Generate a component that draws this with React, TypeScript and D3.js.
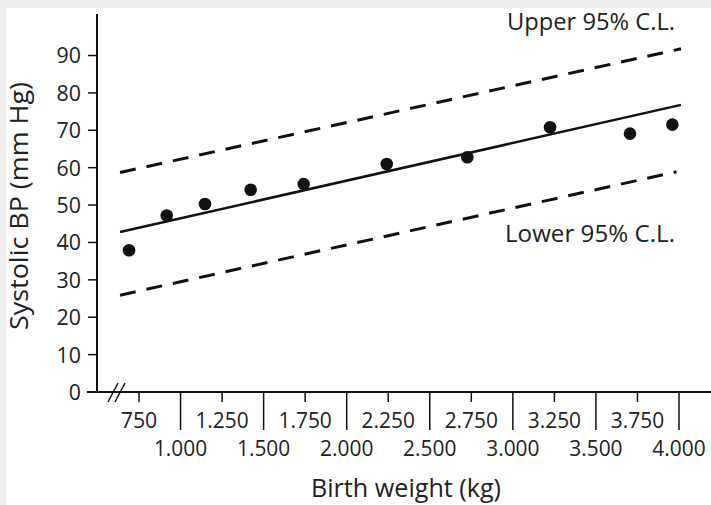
import React from 'react';
import * as d3 from 'd3';

// birth weight (g) and systolic BP (mm Hg)
const weights = [690, 917, 1147, 1422, 1741, 2241, 2726, 3224, 3705, 3960];
const systolic = [37.9, 47.2, 50.3, 54.1, 55.6, 61.0, 62.8, 70.8, 69.1, 71.5];

// fitted line and 95% confidence limits, as [weight, bp] end points
const fitLine = [[636, 42.8], [4012, 76.8]];
const upperCL = [[636, 58.7], [4012, 91.8]];
const lowerCL = [[636, 25.9], [3985, 58.9]];

const yTicks = [0, 10, 20, 30, 40, 50, 60, 70, 80, 90];
const xTicks = d3.range(750, 4001, 250);

const W = 711;
const H = 505;
const FONT = '"Open Sans", sans-serif';

const locale = d3.formatLocale({ decimal: ',', thousands: '.', grouping: [3], currency: ['', ''] });
const fmt = locale.format(',');

// the original face is narrower than Open Sans, so squeeze labels a bit
const tickWidth = (s: string) => s.replace('.', '').length * 12.2 + (s.includes('.') ? 4.5 : 0);

export default function App() {
  const x = d3.scaleLinear().domain([750, 4000]).range([139, 679]);
  const y = d3.scaleLinear().domain([0, 90]).range([392, 55.5]);
  const line = d3.line<number[]>().x(d => x(d[0])).y(d => y(d[1]));

  const axisX = 97;
  const axisY = y(0);

  return (
    <div>
      <style>{'body{margin:0}'}</style>
      <svg width={W} height={H} style={{ display: 'block', background: '#efefef' }} fontFamily={FONT}>
        <rect x={6} y={8} width={W - 6} height={H - 8} fill="#fff" />

        {/* y axis */}
        <line x1={axisX} x2={axisX} y1={14} y2={axisY} stroke="#111" strokeWidth={2} />
        {yTicks.map(t => (
          <g key={t}>
            <line x1={axisX - 9} x2={axisX} y1={y(t)} y2={y(t)} stroke="#111" strokeWidth={1.5} />
            <text x={axisX - 16} y={y(t)} dy="0.36em" textAnchor="end" fontSize={22} fill="#222"
              textLength={tickWidth(String(t))} lengthAdjust="spacingAndGlyphs">{t}</text>
          </g>
        ))}

        {/* x axis with break */}
        <line x1={87} x2={W} y1={axisY} y2={axisY} stroke="#111" strokeWidth={2} />
        <line x1={108} x2={118} y1={axisY + 10} y2={axisY - 9} stroke="#111" strokeWidth={1.5} />
        <line x1={115} x2={125} y1={axisY + 10} y2={axisY - 9} stroke="#111" strokeWidth={1.5} />
        {xTicks.map((t, i) => {
          const long = i % 2 === 1;
          const label = fmt(t);
          return (
            <g key={t}>
              <line x1={x(t)} x2={x(t)} y1={axisY} y2={axisY + (long ? 38 : 10)} stroke="#111" strokeWidth={1.5} />
              <text x={x(t)} y={long ? 456 : 428} textAnchor="middle" fontSize={22.5} fill="#222"
                textLength={tickWidth(label)} lengthAdjust="spacingAndGlyphs">{label}</text>
            </g>
          );
        })}

        {/* lines */}
        <path d={line(upperCL) || ''} fill="none" stroke="#111" strokeWidth={3} strokeDasharray="16 11" />
        <path d={line(lowerCL) || ''} fill="none" stroke="#111" strokeWidth={3} strokeDasharray="16 11" />
        <path d={line(fitLine) || ''} fill="none" stroke="#111" strokeWidth={2.5} />

        {weights.map((w, i) => (
          <circle key={w} cx={x(w)} cy={y(systolic[i])} r={6.3} fill="#111" />
        ))}

        <text x={675} y={30} textAnchor="end" fontSize={24} fill="#222"
          textLength={168} lengthAdjust="spacingAndGlyphs">Upper 95% C.L.</text>
        <text x={675} y={242} textAnchor="end" fontSize={24} fill="#222"
          textLength={170} lengthAdjust="spacingAndGlyphs">Lower 95% C.L.</text>

        <text x={406} y={497} textAnchor="middle" fontSize={26} fill="#222"
          textLength={190} lengthAdjust="spacingAndGlyphs">Birth weight (kg)</text>
        <text transform="translate(28,206) rotate(-90)" textAnchor="middle" fontSize={26} fill="#222"
          textLength={248} lengthAdjust="spacingAndGlyphs">Systolic BP (mm Hg)</text>
      </svg>
    </div>
  );
}
